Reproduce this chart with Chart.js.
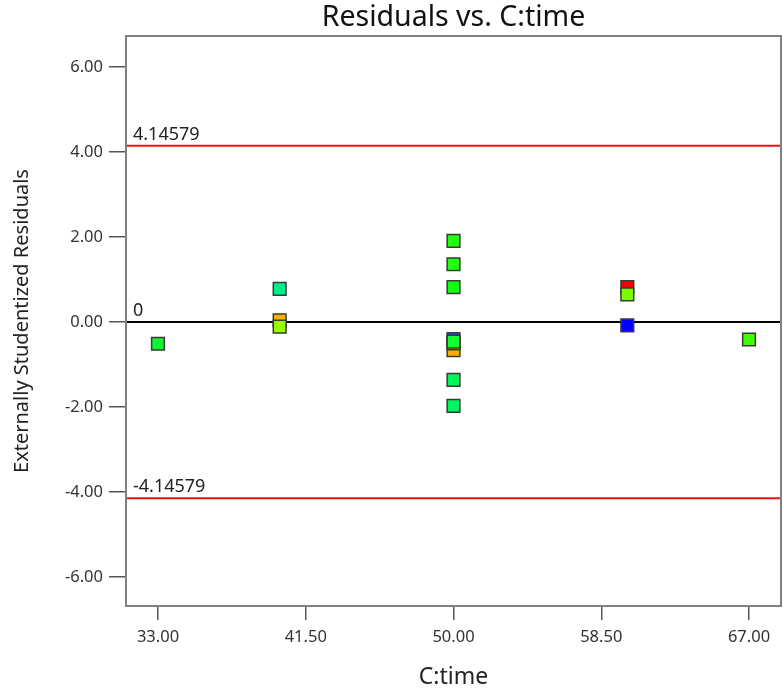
<!DOCTYPE html>
<html>
<head>
<meta charset="utf-8">
<title>Residuals vs. C:time</title>
<script src="https://cdn.jsdelivr.net/npm/chart.js@4.4.1/dist/chart.umd.min.js"></script>
<style>
  html, body { margin: 0; padding: 0; background: #fff; }
  canvas { display: block; }
</style>
</head>
<body>
<canvas id="residualChart" width="783" height="691"></canvas>
<script>
/* ===== DATA ===== */
const xTickValues = [33, 41.5, 50, 58.5, 67];
const yTickValues = [-6, -4, -2, 0, 2, 4, 6];

// runs in draw order (later ones sit on top where squares overlap)
const timeValues = [33, 40, 40, 40, 50, 50, 50, 50, 50, 50, 50, 50, 50, 60, 60, 60, 67];
const residuals = [-0.51, 0.78, 0.04, -0.11, 1.91, 1.36, 0.82, -0.66, -0.50, -0.40, -0.46, -1.36, -1.97, 0.82, 0.65, -0.08, -0.41];
const pointColors = [
  "#11f533", "#00ee8c", "#ffb000", "#99ff00",
  "#22ff11", "#22ff11", "#11ff11", "#ffb000", "#88ff00", "#0055ff", "#11ff33", "#00f558", "#00f560",
  "#ff0000", "#77ff00", "#0000ff", "#3cff00"
];

const limitValue = 4.14579;
const xRange = [31.16, 68.84];
const yRange = [-6.68, 6.73];

const FONT = "'Noto Sans', 'Open Sans', sans-serif";
Chart.defaults.font.family = FONT;

/* ===== PLOT FRAME + LIMIT LABELS ===== */
const framePlugin = {
  id: "frame",
  afterDatasetsDraw(chart) {
    const { ctx, chartArea: a, scales } = chart;
    ctx.save();
    ctx.strokeStyle = "#808080";
    ctx.lineWidth = 2;
    ctx.strokeRect(a.left, a.top, a.right - a.left, a.bottom - a.top);

    ctx.fillStyle = "#222";
    ctx.font = "18px " + FONT;
    ctx.textAlign = "left";
    ctx.textBaseline = "bottom";
    [limitValue, 0, -limitValue].forEach(v => {
      const y = scales.y.getPixelForValue(v);
      ctx.fillText(v === 0 ? "0" : String(v), a.left + 7, y - 2);
    });
    ctx.restore();
  }
};

const titlePlugin = {
  id: "topTitle",
  afterDraw(chart) {
    const { ctx, chartArea: a } = chart;
    ctx.save();
    ctx.fillStyle = "#111";
    ctx.font = "28.5px " + FONT;
    ctx.textAlign = "center";
    ctx.textBaseline = "middle";
    ctx.fillText("Residuals vs. C:time", (a.left + a.right) / 2, 18);
    ctx.restore();
  }
};

function hLine(value, color) {
  return {
    type: "line",
    data: [{ x: xRange[0], y: value }, { x: xRange[1], y: value }],
    borderColor: color,
    borderWidth: 2,
    pointRadius: 0,
    order: 1
  };
}

new Chart(document.getElementById("residualChart"), {
  type: "scatter",
  data: {
    datasets: [
      {
        data: timeValues.map((t, i) => ({ x: t, y: residuals[i] })),
        pointStyle: "rect",
        pointRadius: 9,
        pointBackgroundColor: pointColors,
        pointBorderColor: "#3a3a3a",
        pointBorderWidth: 1.5,
        order: 0
      },
      hLine(limitValue, "#f01010"),
      hLine(-limitValue, "#f01010"),
      hLine(0, "#000")
    ]
  },
  options: {
    responsive: false,
    animation: false,
    layout: { autoPadding: false, padding: { top: 36, right: 2, left: 0, bottom: 0 } },
    plugins: {
      legend: { display: false },
      tooltip: { enabled: false }
    },
    scales: {
      x: {
        type: "linear",
        min: xRange[0],
        max: xRange[1],
        afterBuildTicks: s => { s.ticks = xTickValues.map(v => ({ value: v })); },
        afterFit: s => { s.height = 85; s.paddingLeft = 0; s.paddingRight = 0; },
        border: { display: false },
        grid: { drawOnChartArea: false, tickLength: 14, tickColor: "#555", lineWidth: 1.5 },
        ticks: {
          autoSkip: false,
          maxRotation: 0,
          padding: 7,
          color: "#333",
          font: { size: 16.5 },
          callback: v => v.toFixed(2)
        },
        title: {
          display: true,
          text: "C:time",
          color: "#222",
          font: { size: 23 },
          padding: { top: 0, bottom: 0 }
        }
      },
      y: {
        type: "linear",
        min: yRange[0],
        max: yRange[1],
        afterBuildTicks: s => { s.ticks = yTickValues.map(v => ({ value: v })); },
        afterFit: s => { s.width = 126; s.paddingTop = 0; s.paddingBottom = 0; },
        border: { display: false },
        grid: { drawOnChartArea: false, tickLength: 17, tickColor: "#555", lineWidth: 1.5 },
        ticks: {
          padding: 6,
          color: "#333",
          font: { size: 16.5 },
          callback: v => v.toFixed(2)
        },
        title: {
          display: true,
          text: "Externally Studentized Residuals",
          color: "#222",
          font: { size: 20 },
          padding: { top: 10, bottom: 0 }
        }
      }
    }
  },
  plugins: [framePlugin, titlePlugin]
});
</script>
</body>
</html>
